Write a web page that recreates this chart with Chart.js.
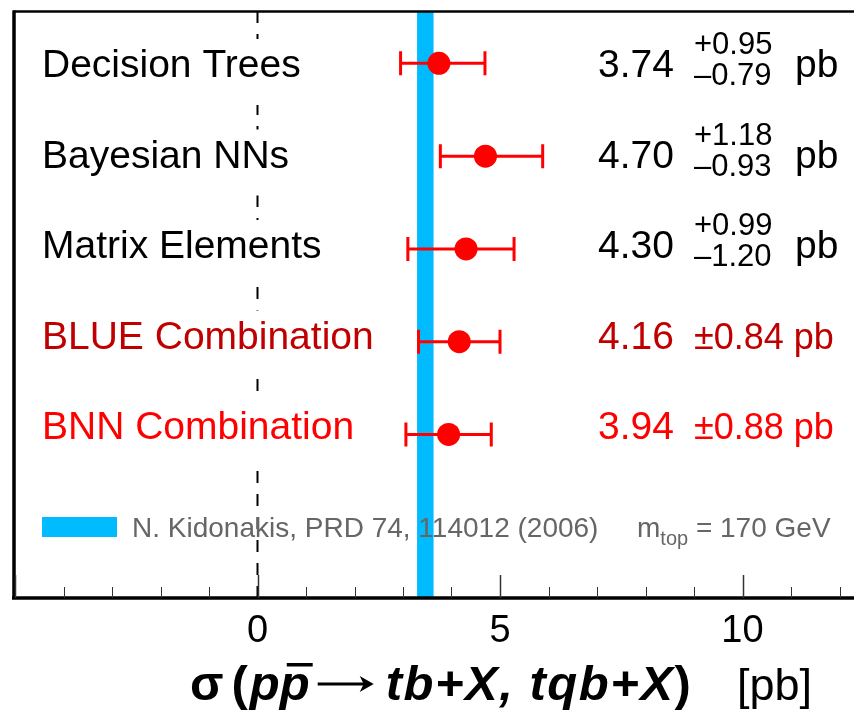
<!DOCTYPE html>
<html>
<head>
<meta charset="utf-8">
<script src="https://cdn.jsdelivr.net/npm/chart.js@4.4.1/dist/chart.umd.min.js"></script>
<style>
  html, body { margin: 0; padding: 0; background: #fff; overflow: hidden; }
  #wrap { width: 880px; height: 712px; }
</style>
</head>
<body>
<div id="wrap"><canvas id="c" width="880" height="712"></canvas></div>
<script>
// Single-top cross section measurements (pb)
const methods   = ['Decision Trees', 'Bayesian NNs', 'Matrix Elements', 'BLUE Combination', 'BNN Combination'];
const xsec      = [3.74, 4.70, 4.30, 4.16, 3.94];
const errPlus   = [0.95, 1.18, 0.99, 0.84, 0.88];
const errMinus  = [0.79, 0.93, 1.20, 0.84, 0.88];
const rowColors = ['#000000', '#000000', '#000000', '#c00000', '#ff0000'];

// NLO theory prediction band
const theoryXsec = 3.46;
const theoryErr  = 0.17;
const theoryLabel = 'N. Kidonakis, PRD 74, 114012 (2006)';

// Axis tick labels shown
const xTickLabels = [0, 5, 10];

const FONT = "'Liberation Sans', Arial, sans-serif";
const RED = '#ff0000';
const BAND = '#00bbff';

function rowTextBaseline(i) { return 77 + 90.5 * i; }

const measPlugin = {
  id: 'measurements',
  beforeDatasetsDraw(chart) {
    const { ctx, chartArea: a, scales: { x, y } } = chart;
    ctx.save();
    // theory band
    const b0 = x.getPixelForValue(theoryXsec - theoryErr);
    const b1 = x.getPixelForValue(theoryXsec + theoryErr);
    ctx.fillStyle = BAND;
    ctx.fillRect(b0, a.top, b1 - b0, a.bottom - a.top);

    // zero reference line
    const x0 = x.getPixelForValue(0);
    ctx.strokeStyle = '#000';
    ctx.lineWidth = 2;
    ctx.setLineDash([12, 11]);
    ctx.beginPath();
    ctx.moveTo(x0, a.bottom);
    ctx.lineTo(x0, a.top);
    ctx.stroke();
    ctx.setLineDash([]);

    // method labels on white boxes
    ctx.font = '39px ' + FONT;
    ctx.textBaseline = 'alphabetic';
    ctx.textAlign = 'left';
    methods.forEach((m, i) => {
      const by = rowTextBaseline(i);
      const w = ctx.measureText(m).width;
      ctx.fillStyle = '#fff';
      ctx.fillRect(36, by - 38, w + 12, 66);
      ctx.fillStyle = rowColors[i];
      ctx.fillText(m, 42, by);
    });

    // error bars
    ctx.strokeStyle = RED;
    ctx.lineWidth = 3;
    xsec.forEach((v, i) => {
      const py = y.getPixelForValue(i + 1);
      const lo = x.getPixelForValue(v - errMinus[i]);
      const hi = x.getPixelForValue(v + errPlus[i]);
      ctx.beginPath();
      ctx.moveTo(lo, py); ctx.lineTo(hi, py);
      ctx.moveTo(lo, py - 12); ctx.lineTo(lo, py + 12);
      ctx.moveTo(hi, py - 12); ctx.lineTo(hi, py + 12);
      ctx.stroke();
    });
    ctx.restore();
  },
  afterDatasetsDraw(chart) {
    const { ctx, chartArea: a, scales: { x } } = chart;
    ctx.save();
    ctx.textAlign = 'left';
    ctx.textBaseline = 'alphabetic';

    // value annotations
    xsec.forEach((v, i) => {
      const by = rowTextBaseline(i);
      ctx.fillStyle = rowColors[i];
      ctx.font = '39px ' + FONT;
      ctx.fillText(v.toFixed(2), 598, by);
      if (errPlus[i] === errMinus[i]) {
        ctx.font = '36px ' + FONT;
        ctx.fillText('\u00b1' + errPlus[i].toFixed(2) + ' pb', 694, by);
      } else {
        ctx.font = '31px ' + FONT;
        ctx.fillText('+' + errPlus[i].toFixed(2), 694, by - 23);
        ctx.fillText('\u2013' + errMinus[i].toFixed(2), 694, by + 8);
        ctx.font = '39px ' + FONT;
        ctx.fillText('pb', 795, by);
      }
    });

    // legend
    ctx.fillStyle = BAND;
    ctx.fillRect(42, 517, 75, 20);
    ctx.fillStyle = '#666666';
    ctx.font = '28px ' + FONT;
    ctx.fillText(theoryLabel, 132, 537);
    let lx = 637;
    ctx.fillText('m', lx, 537);
    lx += ctx.measureText('m').width;
    ctx.font = '20px ' + FONT;
    ctx.fillText('top', lx, 545);
    lx += ctx.measureText('top').width;
    ctx.font = '28px ' + FONT;
    ctx.fillText(' = 170 GeV', lx, 537);

    // frame
    ctx.strokeStyle = '#000';
    ctx.lineWidth = 2.5;
    ctx.beginPath();
    ctx.moveTo(a.left - 2, a.top); ctx.lineTo(a.right, a.top);
    ctx.stroke();
    ctx.lineWidth = 3.5;
    ctx.beginPath();
    ctx.moveTo(a.left - 1, a.top - 1); ctx.lineTo(a.left - 1, a.bottom + 1);
    ctx.moveTo(a.left - 3, a.bottom); ctx.lineTo(a.right, a.bottom);
    ctx.moveTo(a.right, a.top); ctx.lineTo(a.right, a.bottom);
    ctx.stroke();

    // tick marks along the bottom axis
    ctx.strokeStyle = '#333';
    for (let t = Math.ceil(x.min); t <= x.max; t++) {
      const px = Math.round(x.getPixelForValue(t)) + 0.5;
      const major = t % 5 === 0;
      ctx.lineWidth = major ? 1.5 : 1;
      ctx.beginPath();
      ctx.moveTo(px, a.bottom);
      ctx.lineTo(px, a.bottom - (major ? 23 : 11));
      ctx.stroke();
    }

    // axis title: sigma (p pbar -> tb+X, tqb+X)  [pb]
    const base = 700;
    const size = 49;
    const bold = 'bold ' + size + 'px ' + FONT;
    const boldIt = 'italic bold ' + size + 'px ' + FONT;
    ctx.fillStyle = '#000';
    ctx.strokeStyle = '#000';
    let tx = 190;
    const put = (t, f) => {
      ctx.font = f;
      ctx.fillText(t, tx, base);
      const w = ctx.measureText(t).width;
      tx += w;
      return w;
    };
    put('\u03c3', bold);
    tx += 8;
    put('(', bold);
    tx += 2;
    put('p', boldIt);
    const pbx = tx;
    const pw = put('p', boldIt);
    ctx.fillRect(pbx + 7, base - 37, pw - 4, 3.5);
    tx += 8;
    // long arrow
    const ay = base - 16;
    const aw = 56;
    ctx.lineWidth = 3;
    ctx.beginPath();
    ctx.moveTo(tx, ay); ctx.lineTo(tx + aw - 4, ay);
    ctx.stroke();
    ctx.beginPath();
    ctx.moveTo(tx + aw, ay);
    ctx.lineTo(tx + aw - 14, ay - 8);
    ctx.lineTo(tx + aw - 10, ay);
    ctx.lineTo(tx + aw - 14, ay + 8);
    ctx.closePath();
    ctx.fill();
    tx += aw + 12;
    ctx.letterSpacing = '1.5px';
    put('tb+X, tqb+X', boldIt);
    ctx.letterSpacing = '0px';
    put(')', bold);
    ctx.font = '45px ' + FONT;
    ctx.fillText('[pb]', 737, base);
    ctx.restore();
  }
};

const points = xsec.map((v, i) => ({ x: v, y: i + 1 }));

new Chart(document.getElementById('c'), {
  type: 'scatter',
  data: {
    datasets: [{
      data: points,
      pointRadius: 11.5,
      pointHoverRadius: 11.5,
      pointBackgroundColor: RED,
      pointBorderColor: RED,
      pointBorderWidth: 0
    }]
  },
  options: {
    responsive: false,
    animation: false,
    events: [],
    layout: { padding: { left: 15, top: 10, right: 16.25, bottom: 0 } },
    plugins: { legend: { display: false }, tooltip: { enabled: false } },
    scales: {
      x: {
        type: 'linear',
        min: -5,
        max: 12.5,
        afterFit: s => { s.height = 114; },
        border: { display: false },
        grid: { display: false, drawTicks: false },
        ticks: {
          stepSize: 1,
          autoSkip: false,
          maxRotation: 0,
          padding: 11,
          color: '#000',
          font: { size: 38, family: FONT },
          callback: v => (xTickLabels.includes(v) ? String(v) : '')
        }
      },
      y: {
        type: 'linear',
        reverse: true,
        min: 0.441,
        max: 6.763,
        display: false
      }
    }
  },
  plugins: [measPlugin]
});
</script>
</body>
</html>
